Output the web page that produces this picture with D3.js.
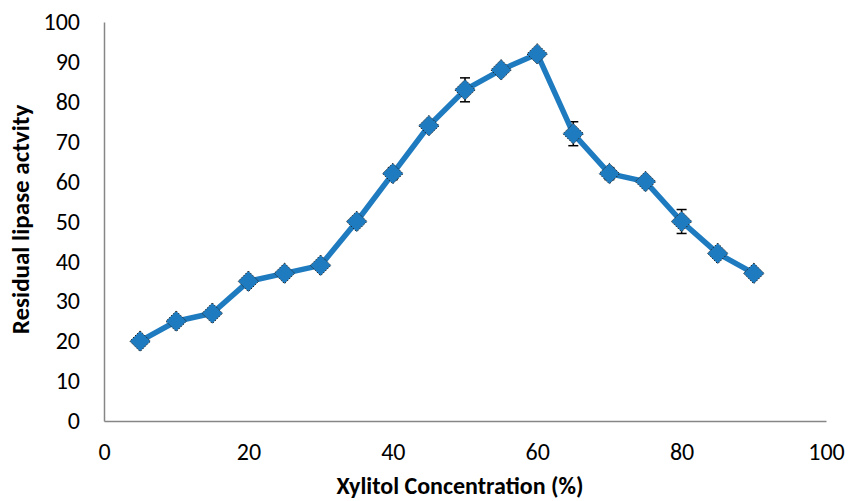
<!DOCTYPE html>
<html lang="en">
<head>
    <meta charset="UTF-8">
    <title>Residual lipase activity</title>
    <script src="https://cdn.jsdelivr.net/npm/d3@7"></script>
    <style>
        body { margin: 0; background: #fff; }
        text { font-family: Carlito, Calibri, "Open Sans", sans-serif; fill: #000; }
    </style>
</head>
<body>
<script>
    var xylitol = [5, 10, 15, 20, 25, 30, 35, 40, 45, 50, 55, 60, 65, 70, 75, 80, 85, 90];
    var activity = [20, 25, 27, 35, 37, 39, 50, 62, 74, 83, 88, 92, 72, 62, 60, 50, 42, 37];
    var errors = [1, 1, 1, 1, 1, 1, 1, 1.5, 1, 3, 1, 1, 3, 1.5, 1, 3, 1, 0.5];
    var xTicks = [0, 20, 40, 60, 80, 100];
    var yTicks = [0, 10, 20, 30, 40, 50, 60, 70, 80, 90, 100];

    var width = 850, height = 501;
    var margin = {top: 22, right: 24, bottom: 80, left: 104};

    var x = d3.scaleLinear().domain([0, 100]).range([margin.left, width - margin.right]);
    var y = d3.scaleLinear().domain([0, 100]).range([height - margin.bottom, margin.top]);

    var svg = d3.select("body").append("svg")
        .attr("width", width)
        .attr("height", height);

    // axes
    var xAxis = svg.append("g")
        .attr("transform", "translate(0," + y(0) + ")")
        .call(d3.axisBottom(x).tickValues(xTicks).tickSize(0).tickPadding(22));
    var yAxis = svg.append("g")
        .attr("transform", "translate(" + x(0) + ",0)")
        .call(d3.axisLeft(y).tickValues(yTicks).tickSize(0).tickPadding(24));
    [xAxis, yAxis].forEach(function (g) {
        g.select(".domain").attr("stroke", "#868686").attr("stroke-width", 1.5);
        g.selectAll("text").style("font-size", "24px");
    });

    var pts = xylitol.map(function (d, i) {
        return {x: d, y: activity[i], e: errors[i]};
    });

    // error bars
    var eb = svg.append("g").attr("stroke", "#000").attr("stroke-width", 1.5);
    pts.forEach(function (p) {
        eb.append("line").attr("x1", x(p.x)).attr("x2", x(p.x))
            .attr("y1", y(p.y - p.e)).attr("y2", y(p.y + p.e));
        [p.y - p.e, p.y + p.e].forEach(function (v) {
            eb.append("line").attr("x1", x(p.x) - 5).attr("x2", x(p.x) + 5)
                .attr("y1", y(v)).attr("y2", y(v));
        });
    });

    var line = d3.line().x(function (d) { return x(d.x); }).y(function (d) { return y(d.y); });
    svg.append("path").datum(pts)
        .attr("fill", "none")
        .attr("stroke", "#1f7bbf")
        .attr("stroke-width", 5.5)
        .attr("stroke-linejoin", "round")
        .attr("d", line);

    svg.append("g").selectAll("path")
        .data(pts)
        .join("path")
        .attr("transform", function (d) { return "translate(" + x(d.x) + "," + y(d.y) + ")"; })
        .attr("d", d3.symbol().type(d3.symbolDiamond2).size(270))
        .attr("fill", "#1f7bbf")
        .attr("stroke", "#222")
        .attr("stroke-width", 1)
        .attr("stroke-dasharray", "1.5,1.5");

    // titles
    svg.append("text")
        .attr("x", 460)
        .attr("y", 494)
        .attr("text-anchor", "middle")
        .style("font-size", "24px")
        .style("font-weight", "bold")
        .text("Xylitol Concentration (%)");

    svg.append("text")
        .attr("transform", "translate(29," + (y(50) - 2) + ") rotate(-90)")
        .attr("text-anchor", "middle")
        .style("font-size", "25px")
        .style("font-weight", "bold")
        .text("Residual lipase actvity");
</script>
</body>
</html>
